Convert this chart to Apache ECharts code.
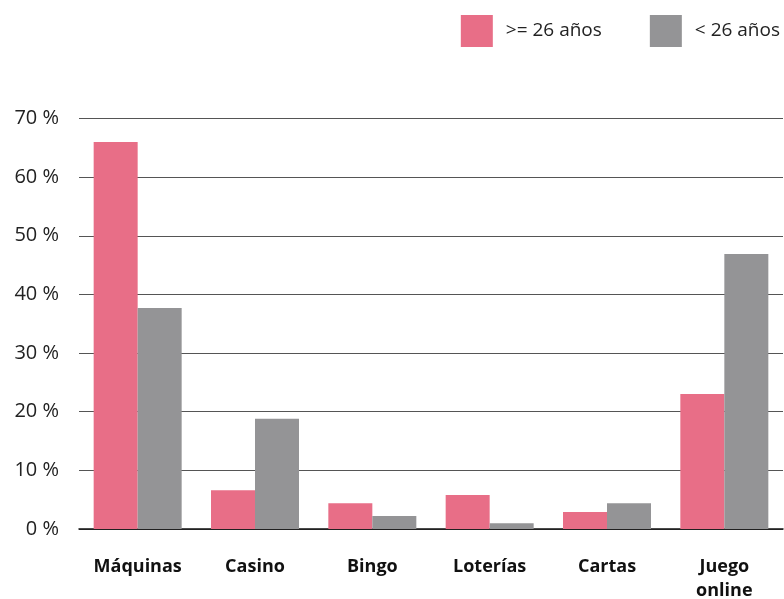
<!DOCTYPE html>
<html><head><meta charset="utf-8">
<script src="https://cdn.jsdelivr.net/npm/echarts@6/dist/echarts.min.js"></script>
<style>html,body{margin:0;padding:0;background:#fff}#c{width:784px;height:599px}</style>
</head><body><div id="c"></div>
<script>
const categories = ['Máquinas', 'Casino', 'Bingo', 'Loterías', 'Cartas', 'Juego\nonline'];
const seriesNames = ['>= 26 años', '< 26 años'];
const older = [66.0, 6.6, 4.4, 5.8, 2.9, 23.0];
const younger = [37.7, 18.8, 2.2, 1.0, 4.4, 46.9];
const yTicks = [0, 10, 20, 30, 40, 50, 60, 70];

const chart = echarts.init(document.getElementById('c'));
chart.setOption({
  animation: false,
  textStyle: { fontFamily: 'Open Sans' },
  legend: {
    right: 4, top: 15,
    itemWidth: 32, itemHeight: 32, itemGap: 48,
    icon: 'rect',
    textStyle: { fontSize: 19, color: '#222', padding: [0, 0, 0, 8], fontFamily: 'Open Sans', lineHeight: 32 },
    padding: 0,
    data: seriesNames
  },
  grid: { left: 79, right: 1, top: 118.5, bottom: 70, containLabel: false, outerBoundsMode: 'none' },
  xAxis: {
    type: 'category', data: categories,
    axisLine: { lineStyle: { color: '#111', width: 1.5 } },
    axisTick: { show: false },
    axisLabel: { fontSize: 18, fontWeight: 'bold', color: '#111', margin: 26, lineHeight: 24, interval: 0 }
  },
  yAxis: {
    type: 'value', min: 0, max: 70, interval: 10,
    axisLabel: { fontSize: 20, color: '#222', margin: 20, formatter: v => yTicks.includes(v) ? v + ' %' : '' },
    splitLine: { lineStyle: { color: '#555', width: 1 } },
    axisLine: { show: false }, axisTick: { show: false }
  },
  series: [
    { name: seriesNames[0], type: 'bar', data: older, itemStyle: { color: '#E86E87' }, barGap: '0%', barCategoryGap: '25%' },
    { name: seriesNames[1], type: 'bar', data: younger, itemStyle: { color: '#949496' }, barGap: '0%', barCategoryGap: '25%' }
  ]
});
</script></body></html>
